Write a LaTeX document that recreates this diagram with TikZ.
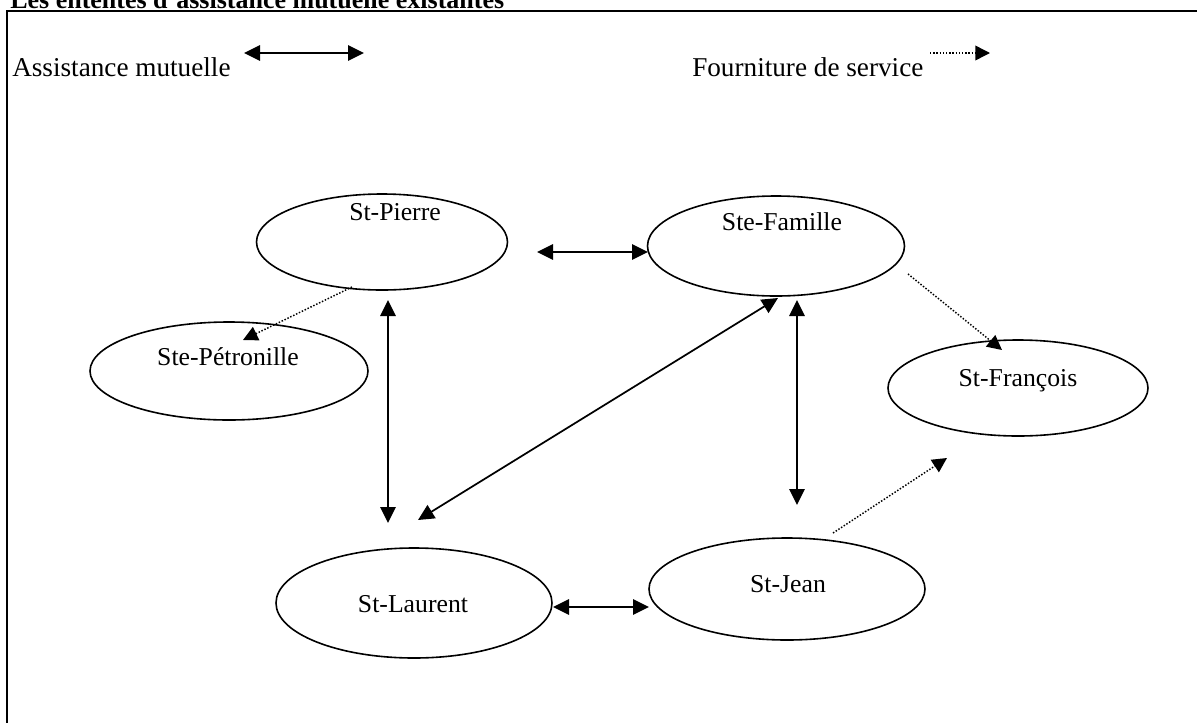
\documentclass[tikz,border=0pt]{standalone}
\usepackage{fontspec}
\setmainfont{Liberation Serif}
\usetikzlibrary{shapes.geometric,arrows.meta,calc}
\tikzset{
  ell/.style={draw, ellipse, line width=1.2pt, inner sep=0pt},
  lbl/.style={anchor=base, inner sep=0pt, font=\fontsize{19.3}{23}\selectfont},
  legtext/.style={anchor=base west, inner sep=0pt, font=\fontsize{20.4}{24}\selectfont},
  mutual/.style={line width=1.3pt, {Triangle[length=12pt,width=11.5pt]}-{Triangle[length=12pt,width=11.5pt]}},
  service/.style={line width=1.1pt, dash pattern=on 1.1pt off 1.3pt, -{Triangle[length=11pt,width=11pt]}}
}
\begin{document}
\begin{tikzpicture}[x=0.75pt,y=-0.75pt]
\useasboundingbox (0,0) rectangle (1197,722);
% frame
\draw[line width=1.4pt] (7,760) -- (7,11) -- (1230,11);
% title
\node[anchor=base west, inner sep=0pt, font=\bfseries\fontsize{19.5}{23}\selectfont] (title) at (10,8) {Les ententes d'assistance mutuelle existantes};
% legend
\node[legtext] (leg1) at (12,76) {Assistance mutuelle};
\coordinate (am1) at (244,53);
\coordinate (am2) at (364,53);
\draw[mutual] (am1) -- (am2);
\node[legtext] (leg2) at (692,76) {Fourniture de service};
\coordinate (fs1) at (930,53);
\coordinate (fs2) at (990,53);
\draw[service] (fs1) -- (fs2);
% ellipses
\node[ell, minimum width=188.25pt, minimum height=72pt] (pierre) at (382,242) {};
\node[lbl] (tpierre) at (395,220) {St-Pierre};
\node[ell, minimum width=192.75pt, minimum height=75pt] (famille) at (776,246) {};
\node[lbl] (tfamille) at (782,230) {Ste-Famille};
\node[ell, minimum width=208.5pt, minimum height=73.5pt] (petronille) at (229,371) {};
\node[lbl] (tpetronille) at (228,365) {Ste-Pétronille};
\node[ell, minimum width=195pt, minimum height=72pt] (francois) at (1018,388) {};
\node[lbl] (tfrancois) at (1018,386) {St-François};
\node[ell, minimum width=207pt, minimum height=82.5pt] (laurent) at (414,603) {};
\node[lbl] (tlaurent) at (413,612) {St-Laurent};
\node[ell, minimum width=207pt, minimum height=76.5pt] (jean) at (787,589) {};
\node[lbl] (tjean) at (788,592) {St-Jean};
% connectors
\draw[mutual] ($(pierre)+(155,10)$) -- ($(famille)+(-128,6)$);
\draw[service] ($(pierre)+(-30,45)$) -- ($(petronille)+(14,-31)$);
\draw[mutual] ($(pierre)+(6,58)$) -- ($(laurent)+(-26,-80)$);
\draw[mutual] ($(famille)+(2,52)$) -- ($(laurent)+(4,-83)$);
\draw[mutual] ($(famille)+(21,54)$) -- ($(jean)+(10,-84)$);
\draw[service] ($(famille)+(132,28)$) -- ($(francois)+(-16,-38)$);
\draw[service] ($(jean)+(46,-56)$) -- ($(francois)+(-71,70)$);
\draw[mutual] ($(laurent)+(139,4)$) -- ($(jean)+(-138,18)$);
\end{tikzpicture}
\end{document}
